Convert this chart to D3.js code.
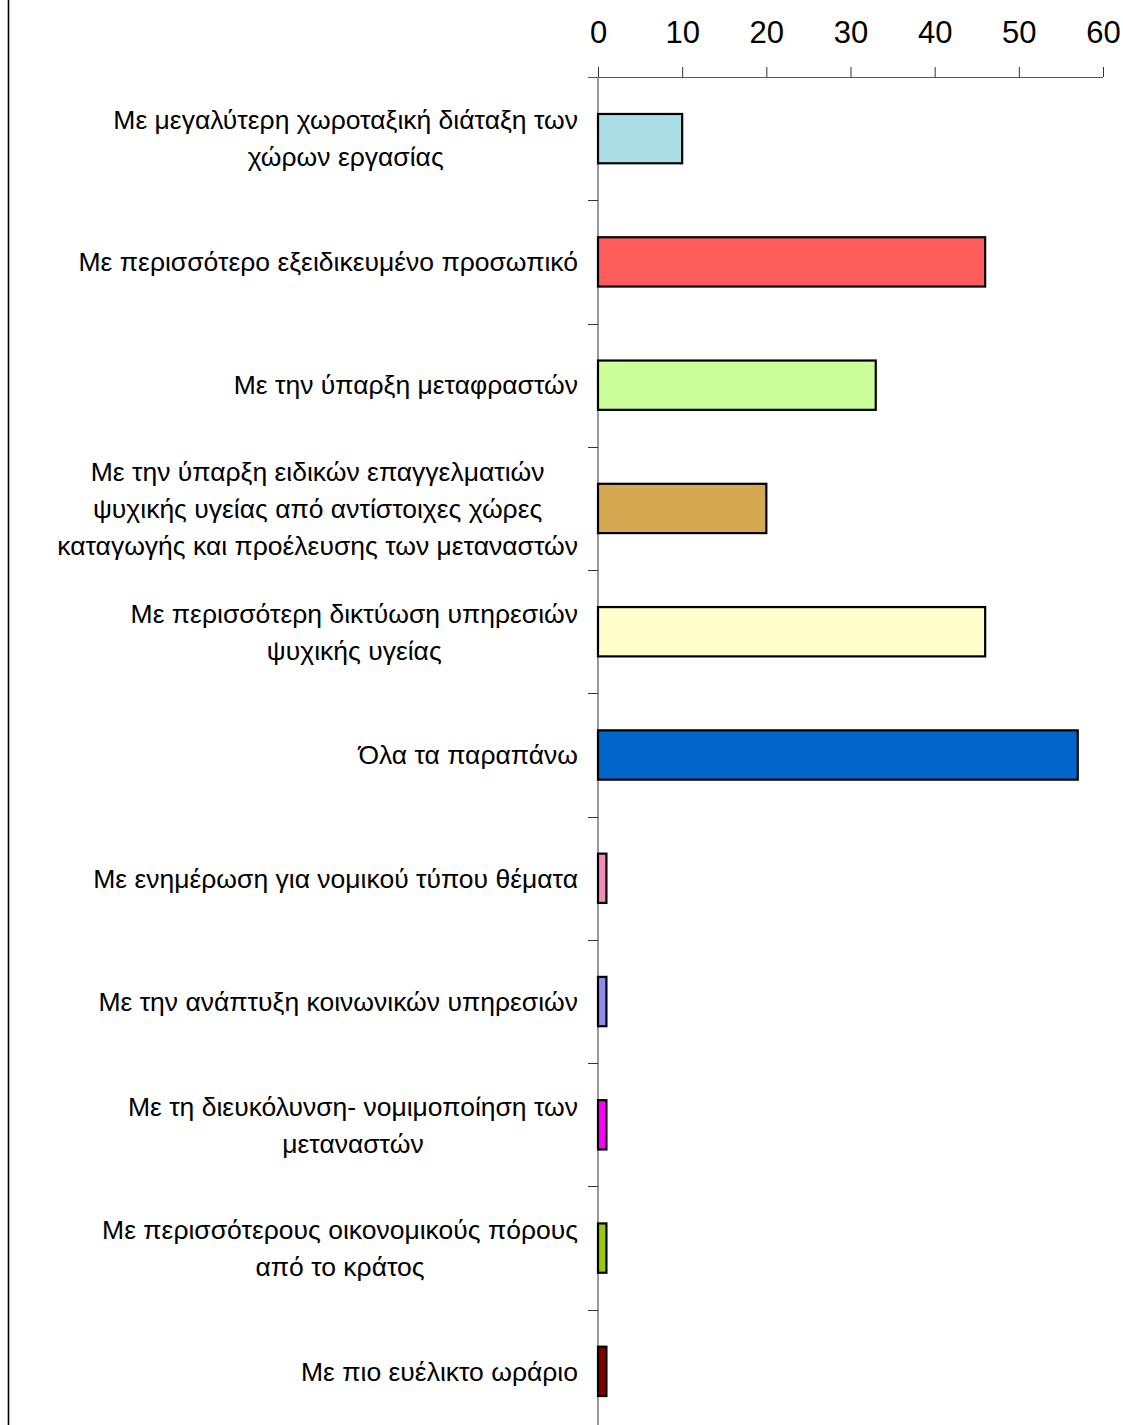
<!DOCTYPE html>
<html>
<head>
<meta charset="utf-8">
<script src="https://cdn.jsdelivr.net/npm/d3@7"></script>
<style>
  html, body { margin: 0; padding: 0; background: #fff; }
  svg { display: block; }
  text { font-family: "Liberation Sans", Arial, sans-serif; fill: #000; }
</style>
</head>
<body>
<svg id="chart" width="1123" height="1425"></svg>
<script>
// Answers, top to bottom (each entry split into its printed lines)
const categories = [
  ["Με μεγαλύτερη χωροταξική διάταξη των", "χώρων εργασίας"],
  ["Με περισσότερο εξειδικευμένο προσωπικό"],
  ["Με την ύπαρξη μεταφραστών"],
  ["Με την ύπαρξη ειδικών επαγγελματιών", "ψυχικής υγείας από αντίστοιχες χώρες", "καταγωγής και προέλευσης των μεταναστών"],
  ["Με περισσότερη δικτύωση υπηρεσιών", "ψυχικής υγείας"],
  ["Όλα τα παραπάνω"],
  ["Με ενημέρωση για νομικού τύπου θέματα"],
  ["Με την ανάπτυξη κοινωνικών υπηρεσιών"],
  ["Με τη διευκόλυνση- νομιμοποίηση των", "μεταναστών"],
  ["Με περισσότερους οικονομικούς πόρους", "από το κράτος"],
  ["Με πιο ευέλικτο ωράριο"]
];
const values = [10, 46, 33, 20, 46, 57, 1, 1, 1, 1, 1];
const barColors = ["#abdde4", "#ff5c5c", "#ccff99", "#d6a852", "#ffffcc", "#0066cc",
                   "#f48cba", "#8c8cf0", "#ff00ff", "#99cc00", "#800000"];
const xTicks = [0, 10, 20, 30, 40, 50, 60];

const svg = d3.select("#chart");

const plot = { left: 598, right: 1103, top: 77, bottom: 1433 };

const x = d3.scaleLinear().domain([0, 60]).range([plot.left, plot.right]);
const y = d3.scaleBand()
  .domain(d3.range(categories.length))
  .range([plot.top, plot.bottom])
  .paddingInner(0.6)
  .paddingOuter(0.3);

// frame line on the left edge
svg.append("line")
  .attr("x1", 8.5).attr("x2", 8.5).attr("y1", 0).attr("y2", 1425)
  .attr("stroke", "#000").attr("stroke-width", 1.6);

// value axis along the top
const xAxis = svg.append("g")
  .attr("transform", `translate(0,${plot.top})`)
  .call(d3.axisTop(x).tickValues(xTicks).tickSize(10).tickPadding(24));
xAxis.select(".domain").attr("stroke", "#555").attr("d", `M${plot.left - 10},0.5H${plot.right}`);
xAxis.selectAll(".tick line").attr("stroke", "#333");
xAxis.selectAll(".tick text")
  .style("font-family", '"Liberation Sans", Arial, sans-serif')
  .style("font-size", "31px").attr("fill", "#000");

// category axis: band boundaries as ticks, no labels
const boundaries = d3.range(categories.length + 1).map(i => plot.top + i * y.step());
const yAxis = svg.append("g");
yAxis.append("line")
  .attr("x1", plot.left).attr("x2", plot.left)
  .attr("y1", plot.top).attr("y2", plot.bottom)
  .attr("stroke", "#777").attr("stroke-width", 1.5);
yAxis.selectAll("line.tick")
  .data(boundaries.slice(1))
  .join("line")
  .attr("class", "tick")
  .attr("x1", plot.left - 10).attr("x2", plot.left)
  .attr("y1", d => Math.round(d) + 0.5).attr("y2", d => Math.round(d) + 0.5)
  .attr("stroke", "#333");

// bars
svg.append("g")
  .selectAll("rect")
  .data(values)
  .join("rect")
  .attr("x", x(0))
  .attr("y", (d, i) => y(i))
  .attr("width", d => x(d) - x(0))
  .attr("height", y.bandwidth())
  .attr("fill", (d, i) => barColors[i])
  .attr("stroke", "#000")
  .attr("stroke-width", 2.2);

// category labels: block right-aligned to the axis, lines centred within it
const lineHeight = 37;
const labelRight = 578;
const labels = svg.append("g").style("font-size", "26.5px");
categories.forEach((lines, i) => {
  const cy = y(i) + y.bandwidth() / 2;
  const t = labels.append("text").attr("text-anchor", "middle");
  lines.forEach((ln, k) => {
    t.append("tspan")
      .attr("y", cy + (k - (lines.length - 1) / 2) * lineHeight)
      .attr("dy", "0.35em")
      .text(ln);
  });
  const w = d3.max(t.selectAll("tspan").nodes(), n => n.getComputedTextLength());
  t.selectAll("tspan").attr("x", labelRight - w / 2);
});
</script>
</body>
</html>
